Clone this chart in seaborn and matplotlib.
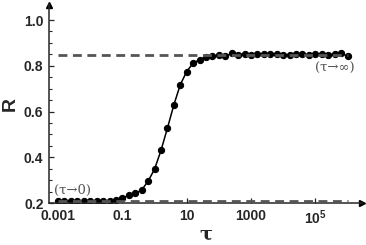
import numpy as np
import pandas as pd
import seaborn as sns
import matplotlib
matplotlib.use("Agg")
import matplotlib.pyplot as plt
from matplotlib.ticker import FixedLocator, FixedFormatter

# exponents of tau (log10) and measured R
log_tau = [-3.0, -2.8, -2.6, -2.4, -2.2, -2.0, -1.8, -1.6, -1.4, -1.2,
           -1.0, -0.8, -0.6, -0.4, -0.2, 0.0, 0.2, 0.4, 0.6, 0.8,
           1.0, 1.2, 1.4, 1.6, 1.8, 2.0, 2.2, 2.4, 2.6, 2.8,
           3.0, 3.2, 3.4, 3.6, 3.8, 4.0, 4.2, 4.4, 4.6, 4.8,
           5.0, 5.2, 5.4, 5.6, 5.8, 6.0]
R = [0.210, 0.209, 0.211, 0.210, 0.209, 0.210, 0.211, 0.209, 0.210, 0.213,
     0.222, 0.234, 0.242, 0.257, 0.296, 0.348, 0.430, 0.527, 0.629, 0.717,
     0.775, 0.812, 0.826, 0.839, 0.843, 0.847, 0.841, 0.855, 0.848, 0.853,
     0.846, 0.851, 0.853, 0.850, 0.852, 0.849, 0.848, 0.852, 0.850, 0.849,
     0.852, 0.850, 0.849, 0.851, 0.854, 0.843]

# limits (dashed asymptotes)
R_low = 0.208
R_high = 0.848
tau_span = [1e-3, 1e6]

xtick_vals = [1e-3, 1e-1, 1e1, 1e3, 1e5]
xtick_labels = ["0.001", "0.1", "10", "1000", r"$\mathbf{10^5}$"]
ytick_vals = [0.2, 0.4, 0.6, 0.8, 1.0]
ytick_labels = ["0.2", "0.4", "0.6", "0.8", "1.0"]

df = pd.DataFrame({"tau": 10 ** np.array(log_tau), "R": R})

sns.set_style("ticks")
plt.rcParams["font.family"] = ["Liberation Sans", "DejaVu Sans"]
plt.rcParams["mathtext.fontset"] = "custom"
plt.rcParams["mathtext.bf"] = "Liberation Sans:bold"

fig = plt.figure(figsize=(3.66, 2.45), dpi=100)
ax = fig.add_axes([0.134, 0.171, 0.855, 0.808])

sns.lineplot(data=df, x="tau", y="R", color="black", lw=1.1,
             marker="o", markersize=4.5, markeredgecolor="black", ax=ax, zorder=2)

# asymptotes
ax.plot(tau_span, [R_high, R_high], ls=(0, (3.2, 2.0)), color="#555555", lw=2, zorder=3)
ax.plot(tau_span, [R_low, R_low], ls=(0, (3.2, 2.0)), color="#555555", lw=2, zorder=3)

ax.set_xscale("log")
ax.set_xlim(10 ** -3.28, 10 ** 6.45)
ax.set_ylim(0.2, 1.065)

ax.xaxis.set_major_locator(FixedLocator(xtick_vals))
ax.xaxis.set_major_formatter(FixedFormatter(xtick_labels))
ax.xaxis.set_minor_locator(FixedLocator([]))
ax.yaxis.set_major_locator(FixedLocator(ytick_vals))
ax.yaxis.set_major_formatter(FixedFormatter(ytick_labels))
ax.yaxis.set_minor_locator(FixedLocator([0.25, 0.3, 0.35, 0.45, 0.5, 0.55, 0.65,
                                         0.7, 0.75, 0.85, 0.9, 0.95]))
ax.tick_params(axis="both", which="major", direction="in", length=3.5, width=0.9,
               labelsize=10, pad=4)
ax.tick_params(axis="y", which="minor", direction="in", length=2.5, width=0.8)
for lab in ax.get_xticklabels() + ax.get_yticklabels():
    lab.set_fontweight("bold")

for s in ["top", "right"]:
    ax.spines[s].set_visible(False)
ax.spines["left"].set_linewidth(1.1)
ax.spines["bottom"].set_linewidth(1.1)
ax.plot(1, 0, ">k", markersize=5, transform=ax.transAxes, clip_on=False)
ax.plot(0, 1, "^k", markersize=5, transform=ax.transAxes, clip_on=False)

ax.set_xlabel("τ", fontsize=14, fontweight="bold",
              family=["DejaVu Serif"], labelpad=-1)
ax.set_ylabel("R", fontsize=14, fontweight="bold", labelpad=4)

ax.text(10 ** -2.55, 0.254, "(τ→0)", fontsize=9.5, color="#555555", ha="center", va="center",
        family=["DejaVu Serif"])
ax.text(10 ** 5.6, 0.787, "(τ→∞)", fontsize=9.5, color="#555555", ha="center", va="center",
        family=["DejaVu Serif"])

fig.savefig("out.png", dpi=100)
